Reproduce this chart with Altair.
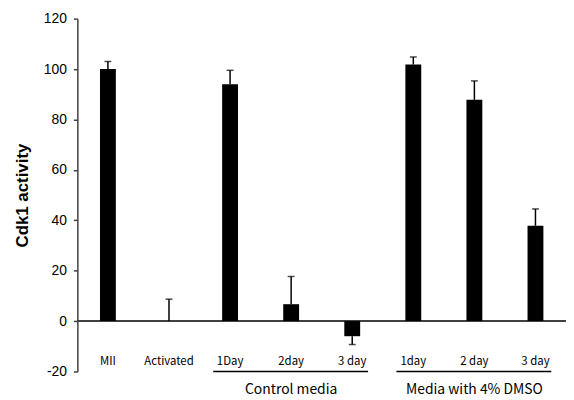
import altair as alt
import pandas as pd

labels = ["MII", "Activated", "1Day", "2day", "3 day", "1day", "2 day", "3 day"]
values = [100, 0, 94, 6.7, -6, 101.8, 87.8, 37.8]
errors = [3, 8.7, 5.5, 11, 3.3, 3, 7.5, 6.7]
groups = ["Control media", "Media with 4% DMSO"]
group_start = [2, 5]
group_mid = [3, 6]
group_end = [4, 7]
y_ticks = [-20, 0, 20, 40, 60, 80, 100, 120]

df = pd.DataFrame({
    "id": list(range(len(labels))),
    "label": labels,
    "value": values,
    "err_end": [v - e if v < 0 else v + e for v, e in zip(values, errors)],
})
gdf = pd.DataFrame({"group": groups, "start": group_start, "mid": group_mid, "end": group_end})

FONT_LBL = "Noto Sans CJK KR"

x = alt.X("id:O", axis=None, scale=alt.Scale(paddingInner=0, paddingOuter=0, domain=list(range(len(labels)))))
y = alt.Y("value:Q", scale=alt.Scale(domain=[-20, 120], nice=False),
          axis=alt.Axis(values=y_ticks, title="Cdk1 activity", grid=False,
                        labelExpr="'' + datum.value",
                        domainColor="#404040", domainWidth=1.5, tickColor="#404040",
                        tickWidth=1.5, tickSize=4, labelPadding=7,
                        labelFont="Liberation Sans", labelFontSize=14, labelColor="black",
                        titleFont="Liberation Sans", titleFontSize=17, titleFontWeight="bold",
                        titleColor="black", titlePadding=12))

base = alt.Chart(df)

zero = base.mark_rule(color="#404040", strokeWidth=1.5).encode(y=alt.datum(0))
bars = base.mark_bar(size=16, color="black").encode(x=x, y=y)
err = base.mark_rule(color="black", strokeWidth=1.5).encode(x=x, y="value:Q", y2="err_end:Q")
caps = base.mark_tick(color="black", size=7, thickness=1.5, orient="horizontal").encode(x=x, y="err_end:Q")
lbls = base.mark_text(font=FONT_LBL, fontSize=11.5, color="black", baseline="middle").encode(
    x=x, y=alt.value(346), text="label:N")

gbase = alt.Chart(gdf)
glines = gbase.mark_rule(color="black", strokeWidth=1.5, xOffset=-17, x2Offset=16).encode(
    x=alt.X("start:O"), x2="end:O", y=alt.value(356))
gtext = gbase.mark_text(font=FONT_LBL, fontSize=14, color="black", baseline="middle").encode(
    x=alt.X("mid:O"), y=alt.value(375), text="group:N")

chart = alt.layer(zero, bars, err, caps, lbls, glines, gtext).properties(
    width=493, height=356,
    padding={"left": 70, "top": 9, "right": 0, "bottom": 26},
    autosize=alt.AutoSizeParams(type="none"),
).configure_view(stroke=None)

chart.save("out.html", embed_options={"renderer": "svg", "actions": False})
